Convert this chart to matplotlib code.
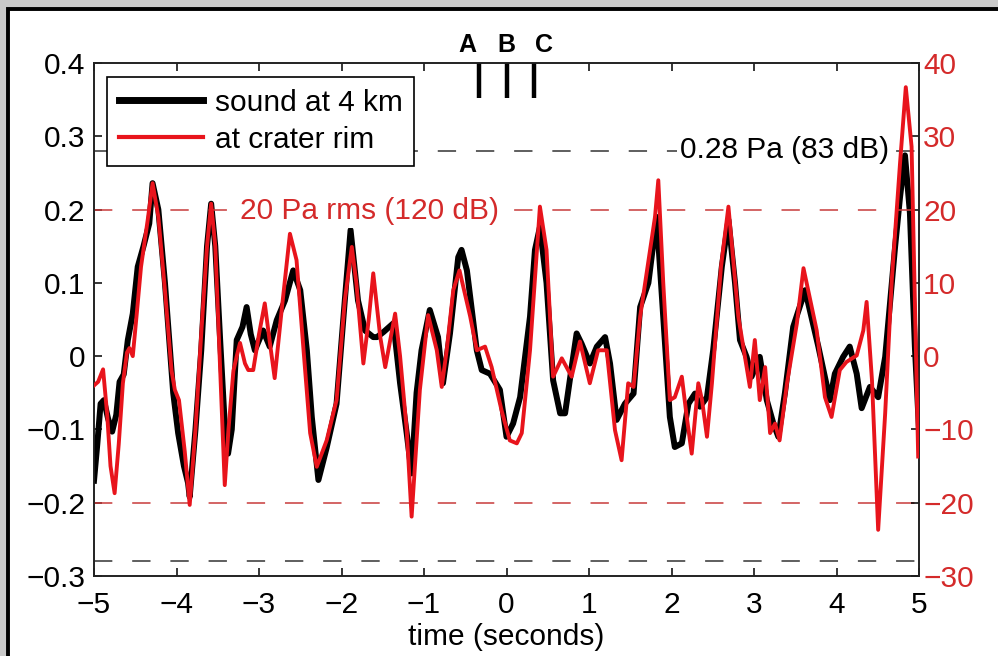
import matplotlib
matplotlib.use('Agg')
import matplotlib.pyplot as plt
from matplotlib.patches import Rectangle
from matplotlib.lines import Line2D

plt.rcParams['font.family'] = ['Liberation Sans', 'DejaVu Sans']

# sound at 4 km (left axis, Pa)
t_far = [-5.00, -4.96, -4.92, -4.88, -4.83, -4.78, -4.73, -4.69, -4.64, -4.59,
         -4.53, -4.47, -4.40, -4.33, -4.29, -4.22, -4.14, -4.04, -3.98, -3.91,
         -3.86, -3.84, -3.77, -3.70, -3.63, -3.58, -3.53, -3.47, -3.42, -3.375,
         -3.33, -3.27, -3.20, -3.15, -3.10, -3.05, -2.95, -2.87, -2.785, -2.685,
         -2.585, -2.50, -2.42, -2.36, -2.28, -2.18, -2.06, -1.96, -1.89, -1.80,
         -1.715, -1.615, -1.57, -1.49, -1.37, -1.29, -1.21, -1.15, -1.09, -1.03,
         -0.93, -0.83, -0.77, -0.685, -0.585, -0.545, -0.48, -0.36, -0.30, -0.20,
         -0.08, 0.00, 0.08, 0.165, 0.285, 0.345, 0.405, 0.485, 0.565, 0.65,
         0.71, 0.79, 0.85, 0.91, 1.01, 1.095, 1.195, 1.255, 1.335, 1.435,
         1.54, 1.62, 1.72, 1.82, 1.90, 1.98, 2.04, 2.125, 2.205, 2.285,
         2.345, 2.43, 2.505, 2.61, 2.69, 2.77, 2.83, 2.91, 2.97, 3.07,
         3.155, 3.235, 3.295, 3.375, 3.475, 3.62, 3.78, 3.92, 3.98, 4.08,
         4.16, 4.245, 4.305, 4.405, 4.505, 4.59, 4.71, 4.77, 4.83, 4.89,
         4.95, 5.00]
p_far = [-0.170, -0.120, -0.065, -0.060, -0.085, -0.103, -0.080, -0.035, -0.025, 0.022,
         0.058, 0.122, 0.150, 0.181, 0.236, 0.200, 0.100, -0.050, -0.105, -0.150,
         -0.173, -0.192, -0.100, 0.008, 0.150, 0.208, 0.150, 0.020, -0.083, -0.133,
         -0.100, 0.022, 0.040, 0.067, 0.030, 0.008, 0.035, 0.013, 0.049, 0.076,
         0.117, 0.090, 0.008, -0.083, -0.169, -0.125, -0.065, 0.076, 0.172, 0.076,
         0.035, 0.026, 0.026, 0.033, 0.045, -0.037, -0.105, -0.160, -0.050, 0.008,
         0.063, 0.026, -0.037, 0.031, 0.135, 0.145, 0.117, 0.008, -0.019, -0.024,
         -0.046, -0.110, -0.092, -0.056, 0.054, 0.145, 0.176, 0.100, -0.033, -0.078,
         -0.078, -0.015, 0.031, 0.017, -0.010, 0.013, 0.026, -0.010, -0.087, -0.065,
         -0.051, 0.067, 0.100, 0.190, 0.054, -0.083, -0.124, -0.119, -0.065, -0.051,
         -0.069, -0.056, 0.008, 0.122, 0.186, 0.100, 0.022, -0.001, -0.028, -0.001,
         -0.060, -0.092, -0.110, -0.050, 0.040, 0.090, 0.013, -0.060, -0.024, -0.001,
         0.013, -0.024, -0.071, -0.042, -0.056, -0.001, 0.149, 0.217, 0.274, 0.195,
         0.013, -0.100]

# at crater rim (right axis, Pa)
t_rim = [-5.00, -4.95, -4.89, -4.84, -4.80, -4.75, -4.70, -4.65, -4.60, -4.57,
         -4.53, -4.48, -4.43, -4.35, -4.29, -4.22, -4.14, -4.06, -4.02, -3.97,
         -3.90, -3.84, -3.77, -3.70, -3.63, -3.58, -3.53, -3.47, -3.415, -3.37,
         -3.31, -3.27, -3.23, -3.17, -3.13, -3.07, -3.00, -2.93, -2.87, -2.81,
         -2.725, -2.625, -2.545, -2.46, -2.38, -2.30, -2.18, -2.06, -1.96, -1.875,
         -1.82, -1.735, -1.67, -1.615, -1.53, -1.47, -1.35, -1.29, -1.21, -1.15,
         -1.05, -0.95, -0.845, -0.785, -0.725, -0.645, -0.57, -0.44, -0.36, -0.26,
         -0.18, -0.06, 0.04, 0.125, 0.185, 0.285, 0.405, 0.485, 0.565, 0.67,
         0.79, 0.89, 1.01, 1.11, 1.215, 1.315, 1.395, 1.475, 1.54, 1.62,
         1.74, 1.80, 1.84, 1.90, 1.98, 2.04, 2.125, 2.185, 2.245, 2.325,
         2.37, 2.43, 2.49, 2.60, 2.69, 2.81, 2.89, 2.95, 3.01, 3.07,
         3.135, 3.195, 3.255, 3.31, 3.40, 3.52, 3.60, 3.76, 3.86, 3.94,
         4.04, 4.12, 4.245, 4.325, 4.365, 4.43, 4.505, 4.59, 4.67, 4.77,
         4.84, 4.91, 4.99]
p_rim = [-4.0, -3.5, -1.8, -8.0, -15.0, -18.7, -12.0, -3.7, 0.5, 1.1,
         0.0, 6.0, 12.2, 18.5, 23.6, 19.0, 9.0, -2.0, -4.6, -6.0,
         -13.0, -20.3, -10.0, 3.1, 15.0, 20.8, 15.0, -2.0, -17.6, -10.0,
         -2.0, 0.0, 1.8, -1.0, -1.9, -1.9, 3.0, 7.2, 2.0, -3.0,
         6.3, 16.7, 13.1, 0.8, -10.5, -15.1, -11.5, -6.0, 7.6, 14.9,
         10.0, -1.0, 5.0, 11.3, 2.6, -1.5, 5.8, 0.0, -10.0, -21.9,
         -4.6, 5.6, 0.8, -4.2, 0.8, 9.0, 11.7, 5.4, 0.8, 1.3,
         -1.5, -7.4, -11.5, -11.9, -10.5, 0.8, 20.4, 14.5, -2.8, -0.3,
         -2.8, 2.0, -3.7, 0.8, 0.8, -10.1, -14.2, -3.7, -4.2, 5.4,
         14.5, 19.0, 24.0, 10.0, -6.0, -5.6, -2.8, -8.3, -13.3, -3.7,
         -6.0, -11.0, -3.7, 12.2, 20.4, 5.4, -0.1, -4.2, 2.2, -6.0,
         -1.5, -10.5, -9.2, -11.5, -3.7, 4.5, 12.0, 3.5, -5.6, -8.3,
         -1.9, -0.8, 0.1, 3.5, 7.4, -3.3, -23.7, -7.8, 10.4, 26.3,
         36.7, 28.6, -13.7]

x_ticks = [-5, -4, -3, -2, -1, 0, 1, 2, 3, 4, 5]
left_ticks = [0.4, 0.3, 0.2, 0.1, 0, -0.1, -0.2, -0.3]
left_labels = ['0.4', '0.3', '0.2', '0.1', '0', '\u22120.1', '\u22120.2', '\u22120.3']
right_ticks = [40, 30, 20, 10, 0, -10, -20, -30]

red = '#e8141c'
red_txt = '#d42a2a'
red_dash = '#c83a3a'

fig = plt.figure(figsize=(9.98, 6.56), dpi=100)
fig.patch.set_facecolor('#c9c9c9')
fig.add_artist(Rectangle((8 / 998, -0.05), 1.1, (656 - 9) / 656 + 0.05,
                         transform=fig.transFigure, facecolor='white',
                         edgecolor='black', lw=2.8, zorder=-5))

ax = fig.add_axes([94 / 998, 80 / 656, 825 / 998, 513 / 656])
ax2 = ax.twinx()

# reference levels
ax.axhline(0.28, color='#333333', lw=1.1, dashes=(12, 13), zorder=1)
ax.axhline(-0.28, color='#333333', lw=1.1, dashes=(12, 13), zorder=1)
ax2.axhline(20, color=red_dash, lw=1.1, dashes=(12, 13), zorder=1)
ax2.axhline(-20, color=red_dash, lw=1.1, dashes=(12, 13), zorder=1)

ax.plot(t_far, p_far, color='black', lw=4.3, solid_joinstyle='round', zorder=3)
ax2.plot(t_rim, p_rim, color=red, lw=2.8, solid_joinstyle='round', zorder=4)

ax2.text(2.10, 28.1, '0.28 Pa (83 dB)', fontsize=21.5, va='center', ha='left',
         color='black', zorder=2,
         bbox=dict(facecolor='white', edgecolor='none', pad=2))
ax2.text(-3.23, 19.8, '20 Pa rms (120 dB)', fontsize=21.5, va='center', ha='left',
         color=red_txt, zorder=2,
         bbox=dict(facecolor='white', edgecolor='none', pad=2))

# A B C markers
for xm, xl, lab in [(-0.33, -0.47, 'A'), (0.0, 0.0, 'B'), (0.33, 0.45, 'C')]:
    ax.plot([xm, xm], [0.352, 0.40], color='black', lw=3.2, clip_on=False,
            solid_capstyle='butt', zorder=5)
    ax.text(xl, 0.425, lab, fontsize=18, fontweight='bold', ha='center',
            va='center', clip_on=False)

ax.set_xlim(-5, 5)
ax.set_ylim(-0.3, 0.4)
ax2.set_ylim(-30, 40)

ax.set_xticks(x_ticks)
ax.set_xticklabels([str(v).replace('-', '\u2212') for v in x_ticks])
ax.set_yticks(left_ticks)
ax.set_yticklabels(left_labels)
ax2.set_yticks(right_ticks)
ax2.set_yticklabels([str(v).replace('-', '\u2212') for v in right_ticks])

ax.tick_params(axis='both', direction='in', length=6, width=1.1, labelsize=21.5,
               top=True, right=False)
ax.tick_params(axis='x', pad=11)
ax.tick_params(axis='y', pad=6)
ax2.tick_params(axis='y', direction='in', length=6, width=1.1, labelsize=21.5,
                labelcolor=red_txt, pad=3)
for a in (ax, ax2):
    for s in a.spines.values():
        s.set_linewidth(1.2)
        s.set_color('#222222')

ax.set_xlabel('time (seconds)', fontsize=21.5, labelpad=3)

handles = [Line2D([], [], color='black', lw=5),
           Line2D([], [], color=red, lw=3)]
leg = ax2.legend(handles, ['sound at 4 km', 'at crater rim'], loc='upper left',
                 bbox_to_anchor=(0.0158, 0.973), borderaxespad=0, fontsize=21.5,
                 handlelength=2.8, handletextpad=0.4, labelspacing=0.3,
                 borderpad=0.4, fancybox=False, framealpha=1)
leg.get_frame().set_edgecolor('black')
leg.get_frame().set_linewidth(1.2)
leg.set_zorder(10)

fig.savefig('out.png', dpi=100, facecolor=fig.get_facecolor())
